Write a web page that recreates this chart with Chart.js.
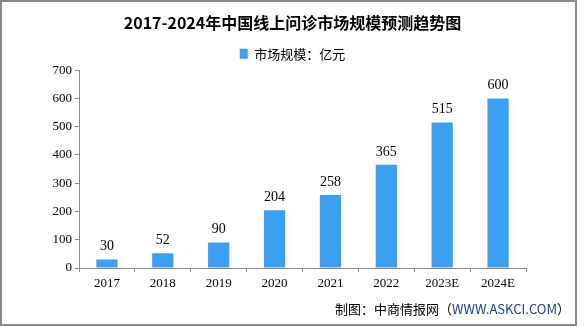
<!DOCTYPE html>
<html>
<head>
<meta charset="utf-8">
<script src="https://cdn.jsdelivr.net/npm/chart.js@4/dist/chart.umd.min.js"></script>
<style>
  body { margin: 0; background: #fff; }
  #wrap { position: relative; width: 585px; height: 327px; }
  #frame { position: absolute; left: 0; top: 0; width: 577px; height: 326px;
           box-sizing: border-box; border: 2px solid #8a8a8a; pointer-events: none; }
</style>
</head>
<body>
<div id="wrap">
  <canvas id="chart" width="585" height="327"></canvas>
  <div id="frame"></div>
</div>
<script>
const years = ["2017", "2018", "2019", "2020", "2021", "2022", "2023E", "2024E"];
const marketSize = [30, 52, 90, 204, 258, 365, 515, 600];
const yMax = 700;
const yStep = 100;

const titleText = "2017-2024年中国线上问诊市场规模预测趋势图";
const seriesName = "市场规模：亿元";
const barColor = "#3d9ff0";
const axisColor = "#8c8c8c";
const numFont = "'Liberation Serif', 'DejaVu Serif', serif";
const cjkFont = "'Noto Sans CJK SC', 'Noto Sans', sans-serif";

// numbers above each bar
const valueLabels = {
  id: "valueLabels",
  afterDatasetsDraw(chart) {
    const ctx = chart.ctx;
    const meta = chart.getDatasetMeta(0);
    ctx.save();
    ctx.font = "14px " + numFont;
    ctx.fillStyle = "#000";
    ctx.textAlign = "center";
    ctx.textBaseline = "middle";
    meta.data.forEach(function(bar, i) {
      ctx.fillText(marketSize[i], bar.x, bar.y - 13);
    });
    ctx.restore();
  }
};

// source line bottom right
const sourceNote = {
  id: "sourceNote",
  afterDraw(chart) {
    const ctx = chart.ctx;
    const parts = [["制图：中商情报网（", "#000"], ["WWW.ASKCI.COM", "#1c3f8c"], ["）", "#000"]];
    ctx.save();
    ctx.font = "13px " + cjkFont;
    ctx.textBaseline = "middle";
    let total = 0;
    parts.forEach(function(p) { total += ctx.measureText(p[0]).width; });
    let x = 570 - total;
    parts.forEach(function(p) {
      ctx.fillStyle = p[1];
      ctx.fillText(p[0], x, 309);
      x += ctx.measureText(p[0]).width;
    });
    ctx.restore();
  }
};

new Chart(document.getElementById("chart"), {
  type: "bar",
  data: {
    labels: years,
    datasets: [{
      label: seriesName,
      data: marketSize,
      backgroundColor: barColor,
      borderWidth: 0,
      categoryPercentage: 1,
      barPercentage: 0.38
    }]
  },
  options: {
    responsive: false,
    animation: false,
    layout: { padding: { left: 0, right: 0, top: 0, bottom: 29 } },
    plugins: {
      title: {
        display: true,
        text: titleText,
        color: "#000",
        font: { family: cjkFont, size: 16, weight: "bold" },
        padding: { top: 13, bottom: 10 }
      },
      legend: {
        display: true,
        labels: {
          boxWidth: 8,
          boxHeight: 10,
          padding: 5,
          color: "#000",
          font: { family: cjkFont, size: 13 }
        }
      },
      tooltip: { enabled: false }
    },
    scales: {
      x: {
        afterFit(s) { s.height = 30; },
        grid: { drawOnChartArea: false, tickLength: 4, color: axisColor },
        border: { color: axisColor, width: 1 },
        ticks: { color: "#000", font: { family: numFont, size: 13 }, padding: 4 }
      },
      y: {
        min: 0,
        max: yMax,
        afterFit(s) { s.width = 79; },
        grid: { drawOnChartArea: false, tickLength: 4, color: axisColor },
        border: { color: axisColor, width: 1 },
        ticks: { stepSize: yStep, color: "#000", font: { family: numFont, size: 13 }, padding: 3 }
      },
      // empty right-hand space so the plot ends before the frame edge
      yRight: {
        position: "right",
        min: 0,
        max: yMax,
        afterFit(s) { s.width = 59; },
        grid: { display: false },
        border: { display: false },
        ticks: { display: false }
      }
    }
  },
  plugins: [valueLabels, sourceNote]
});
</script>
</body>
</html>
